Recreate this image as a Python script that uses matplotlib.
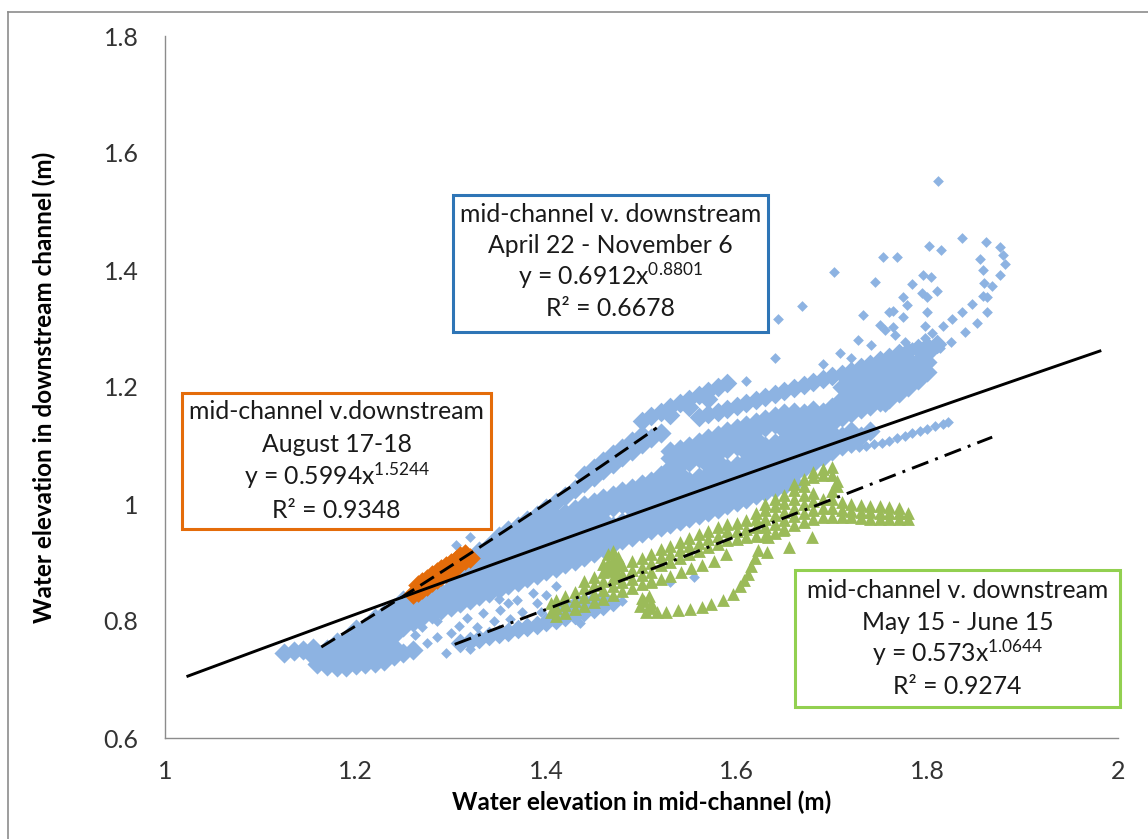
import matplotlib
matplotlib.use("Agg")
import matplotlib.pyplot as plt
from matplotlib.patches import Rectangle
from matplotlib.ticker import FuncFormatter
import numpy as np

plt.rcParams['font.family'] = ['Lato', 'DejaVu Sans']
plt.rcParams['mathtext.fontset'] = 'custom'
plt.rcParams['mathtext.rm'] = 'Lato'
plt.rcParams['mathtext.default'] = 'regular'

# ---------------- April 22 - November 6 (light blue diamonds) ----------------
# dense body of the cloud, one column per x: (x, [y values])
apr_nov_band = [
    (1.125, [0.745]),
    (1.135, [0.748]),
    (1.145, [0.751]),
    (1.155, [0.74, 0.754]),
    (1.16, [0.727, 0.742]),
    (1.17, [0.723, 0.738, 0.752]),
    (1.18, [0.722, 0.738, 0.754, 0.764]),
    (1.19, [0.722, 0.738, 0.754, 0.77]),
    (1.20, [0.724, 0.74, 0.756, 0.772, 0.787]),
    (1.21, [0.726, 0.742, 0.758, 0.774, 0.79]),
    (1.22, [0.728, 0.744, 0.76, 0.776, 0.792, 0.805]),
    (1.23, [0.732, 0.748, 0.764, 0.78, 0.796, 0.812]),
    (1.24, [0.74, 0.756, 0.776, 0.792, 0.808, 0.822]),
    (1.25, [0.746, 0.79, 0.806, 0.822, 0.836]),
    (1.26, [0.75, 0.798, 0.814, 0.83, 0.845]),
    (1.27, [0.806, 0.822, 0.838]),
    (1.28, [0.812, 0.828, 0.844]),
    (1.29, [0.818, 0.834, 0.85]),
    (1.30, [0.824, 0.84, 0.856, 0.87]),
    (1.31, [0.83, 0.846, 0.862, 0.876]),
    (1.32, [0.836, 0.852, 0.868, 0.884]),
    (1.33, [0.842, 0.858, 0.874, 0.89, 0.906, 0.92]),
    (1.34, [0.848, 0.864, 0.88, 0.896, 0.912, 0.928]),
    (1.35, [0.855, 0.871, 0.887, 0.903, 0.919, 0.935, 0.946]),
    (1.36, [0.861, 0.877, 0.893, 0.909, 0.925, 0.941, 0.955]),
    (1.37, [0.867, 0.883, 0.899, 0.915, 0.931, 0.947, 0.963]),
    (1.38, [0.873, 0.889, 0.905, 0.921, 0.937, 0.953, 0.966]),
    (1.39, [0.879, 0.895, 0.911, 0.927, 0.943, 0.957, 0.968]),
    (1.40, [0.885, 0.901, 0.917, 0.933, 0.949, 0.962, 0.97]),
    (1.41, [0.891, 0.907, 0.923, 0.939, 0.955, 0.968, 0.978]),
    (1.42, [0.897, 0.913, 0.929, 0.945, 0.961, 0.975, 0.985]),
    (1.43, [0.903, 0.919, 0.935, 0.951, 0.967, 0.981, 0.992]),
    (1.44, [0.91, 0.926, 0.942, 0.958, 0.974, 0.988, 0.998]),
    (1.45, [0.917, 0.933, 0.949, 0.965, 0.981, 0.995, 1.004]),
    (1.46, [0.924, 0.94, 0.956, 0.972, 0.988, 1.0, 1.01]),
    (1.47, [0.931, 0.947, 0.963, 0.995, 1.006, 1.016]),
    (1.48, [0.938, 0.954, 0.97, 1.0, 1.012, 1.022]),
    (1.49, [0.944, 0.96, 0.976, 0.992, 1.006, 1.018, 1.028]),
    (1.50, [0.95, 0.966, 0.982, 0.998, 1.012, 1.024, 1.034]),
    (1.51, [0.955, 0.971, 0.987, 1.003, 1.018, 1.03, 1.04]),
    (1.52, [0.96, 0.976, 0.992, 1.008, 1.024, 1.038, 1.05]),
    (1.53, [0.966, 0.982, 0.998, 1.014, 1.03, 1.046, 1.062, 1.078, 1.09]),
    (1.54, [0.971, 0.987, 1.003, 1.019, 1.035, 1.051, 1.067, 1.083, 1.094]),
    (1.55, [0.976, 0.992, 1.008, 1.024, 1.04, 1.072, 1.088, 1.1]),
    (1.56, [0.982, 0.998, 1.014, 1.03, 1.046, 1.078, 1.094, 1.106]),
    (1.57, [0.987, 1.003, 1.019, 1.035, 1.051, 1.067, 1.083, 1.099, 1.112]),
    (1.58, [0.992, 1.008, 1.024, 1.04, 1.056, 1.072, 1.088, 1.104, 1.118]),
    (1.59, [0.998, 1.014, 1.03, 1.046, 1.062, 1.094, 1.11, 1.124]),
    (1.60, [1.003, 1.019, 1.035, 1.051, 1.067, 1.099, 1.115, 1.13]),
    (1.61, [1.009, 1.025, 1.041, 1.057, 1.073, 1.089, 1.105, 1.121, 1.135]),
    (1.62, [1.015, 1.031, 1.047, 1.063, 1.079, 1.095, 1.111, 1.127, 1.14]),
    (1.63, [1.02, 1.036, 1.052, 1.068, 1.084, 1.1, 1.132, 1.145]),
    (1.64, [1.025, 1.041, 1.057, 1.073, 1.089, 1.105, 1.137, 1.15]),
    (1.65, [1.03, 1.046, 1.062, 1.078, 1.094, 1.11, 1.126, 1.142, 1.155]),
    (1.66, [1.036, 1.052, 1.068, 1.084, 1.1, 1.116, 1.132, 1.148, 1.158]),
    (1.67, [1.062, 1.078, 1.094, 1.11, 1.126, 1.142, 1.156]),
    (1.68, [1.07, 1.086, 1.102, 1.118, 1.134, 1.15, 1.16]),
    (1.69, [1.08, 1.096, 1.112, 1.128, 1.144, 1.158]),
    (1.70, [1.09, 1.106, 1.122, 1.138, 1.154, 1.165]),
    (1.71, [1.1, 1.116, 1.148, 1.164, 1.18, 1.2]),
    (1.72, [1.108, 1.124, 1.156, 1.172, 1.19, 1.208]),
    (1.73, [1.116, 1.162, 1.178, 1.196, 1.214]),
    (1.74, [1.124, 1.168, 1.184, 1.2, 1.22]),
    (1.75, [1.175, 1.19, 1.206, 1.224, 1.24]),
    (1.76, [1.18, 1.196, 1.212, 1.23, 1.246]),
    (1.77, [1.19, 1.206, 1.222, 1.238, 1.252]),
    (1.78, [1.2, 1.216, 1.232, 1.246]),
    (1.79, [1.212, 1.228, 1.244]),
    (1.80, [1.226, 1.242, 1.258]),
]

# strand running along the upper edge (under the dashed fit)
apr_nov_ridge = [
    (1.38, 0.972), (1.39, 0.982), (1.40, 0.993), (1.41, 1.003), (1.42, 1.014),
    (1.43, 1.025), (1.44, 1.036), (1.45, 1.047), (1.46, 1.058), (1.47, 1.069),
    (1.48, 1.08), (1.49, 1.091), (1.50, 1.102), (1.51, 1.113), (1.52, 1.122),
    (1.44, 1.05), (1.45, 1.062), (1.46, 1.074), (1.47, 1.085), (1.48, 1.096),
    (1.49, 1.107), (1.50, 1.118),
]

# short strand near 1.2 and the long upper strand
apr_nov_upper = [
    (1.50, 1.142), (1.51, 1.15), (1.52, 1.158), (1.53, 1.165), (1.54, 1.172),
    (1.55, 1.18), (1.56, 1.187), (1.57, 1.194), (1.58, 1.2), (1.59, 1.207),
    (1.53, 1.152), (1.55, 1.166), (1.57, 1.18),
    (1.56, 1.148), (1.57, 1.153), (1.58, 1.158), (1.59, 1.163), (1.60, 1.168),
    (1.61, 1.173), (1.62, 1.178), (1.63, 1.183), (1.64, 1.188), (1.65, 1.193),
    (1.66, 1.198), (1.67, 1.203), (1.68, 1.208), (1.69, 1.213), (1.70, 1.218),
    (1.71, 1.223), (1.72, 1.228), (1.73, 1.234), (1.74, 1.24), (1.75, 1.246),
    (1.76, 1.252), (1.77, 1.258), (1.78, 1.262), (1.79, 1.266), (1.80, 1.27),
    (1.81, 1.274),
]

# lower strand below the main body
apr_nov_low = [
    (1.31, 0.762), (1.32, 0.766), (1.33, 0.77), (1.34, 0.774), (1.35, 0.778),
    (1.36, 0.782), (1.37, 0.786), (1.38, 0.79), (1.39, 0.794), (1.40, 0.798),
    (1.41, 0.802), (1.42, 0.806), (1.43, 0.81), (1.44, 0.815), (1.45, 0.82),
    (1.46, 0.826), (1.47, 0.832), (1.42, 0.822), (1.43, 0.828), (1.44, 0.832),
    (1.45, 0.836), (1.46, 0.84),
]

# single scattered readings
apr_nov_single = [
    (1.262, 0.776), (1.275, 0.762), (1.285, 0.773), (1.285, 0.80), (1.30, 0.779),
    (1.309, 0.792), (1.317, 0.805), (1.327, 0.79), (1.334, 0.814), (1.345, 0.80),
    (1.351, 0.819), (1.36, 0.83), (1.369, 0.836), (1.375, 0.815), (1.386, 0.848),
    (1.362, 0.803), (1.39, 0.83), (1.40, 0.845), (1.41, 0.86), (1.395, 0.815),
    (1.32, 0.752), (1.295, 0.745), (1.27, 0.79), (1.35, 0.838), (1.32, 0.944),
    (1.305, 0.93), (1.53, 0.867), (1.48, 0.835), (1.435, 0.797), (1.555, 0.875),
    (1.70, 1.09), (1.72, 1.096), (1.728, 1.098), (1.736, 1.1), (1.744, 1.102),
    (1.752, 1.104), (1.76, 1.108), (1.768, 1.112), (1.776, 1.117), (1.784, 1.121),
    (1.792, 1.125), (1.80, 1.129), (1.808, 1.133), (1.816, 1.137), (1.822, 1.14),
    (1.755, 1.166), (1.762, 1.181), (1.77, 1.19), (1.78, 1.20), (1.785, 1.217),
    (1.79, 1.234), (1.80, 1.251), (1.805, 1.263),
    (1.862, 1.448), (1.876, 1.439), (1.879, 1.426), (1.881, 1.41), (1.876, 1.391),
    (1.868, 1.373), (1.863, 1.354), (1.863, 1.328), (1.852, 1.309), (1.839, 1.294),
    (1.825, 1.277), (1.813, 1.267), (1.855, 1.419), (1.858, 1.40), (1.859, 1.378),
    (1.858, 1.356), (1.847, 1.342), (1.836, 1.328), (1.826, 1.316), (1.816, 1.304),
    (1.805, 1.292), (1.797, 1.284), (1.836, 1.455), (1.811, 1.552), (1.802, 1.441),
    (1.814, 1.434), (1.753, 1.422), (1.768, 1.422), (1.795, 1.391), (1.804, 1.388),
    (1.784, 1.376), (1.794, 1.361), (1.81, 1.364), (1.80, 1.354), (1.774, 1.354),
    (1.779, 1.34), (1.764, 1.33), (1.774, 1.32), (1.80, 1.328), (1.797, 1.304),
    (1.764, 1.303), (1.755, 1.297), (1.766, 1.289), (1.776, 1.277), (1.784, 1.268),
    (1.795, 1.267), (1.702, 1.397), (1.745, 1.38), (1.668, 1.338), (1.732, 1.323),
    (1.643, 1.316), (1.76, 1.328), (1.75, 1.306), (1.708, 1.258), (1.64, 1.25),
    (1.727, 1.28), (1.741, 1.272), (1.69, 1.24), (1.72, 1.25), (1.61, 1.21),
]

# ---------------- August 17-18 (orange diamonds) ----------------
aug_pts = [
    (1.26, 0.846), (1.265, 0.85), (1.265, 0.862), (1.27, 0.855), (1.27, 0.867),
    (1.275, 0.86), (1.275, 0.872), (1.28, 0.866), (1.28, 0.878), (1.285, 0.871),
    (1.285, 0.883), (1.29, 0.877), (1.29, 0.889), (1.295, 0.882), (1.295, 0.894),
    (1.30, 0.888), (1.30, 0.90), (1.305, 0.893), (1.305, 0.905), (1.31, 0.899),
    (1.31, 0.911), (1.315, 0.904), (1.315, 0.914), (1.32, 0.908),
]

# ---------------- May 15 - June 15 (green triangles) ----------------
may_jun_band = [
    (1.405, [0.815, 0.83]),
    (1.41, [0.808, 0.822, 0.836]),
    (1.42, [0.814, 0.828, 0.842]),
    (1.43, [0.82, 0.835, 0.85]),
    (1.44, [0.826, 0.841, 0.856, 0.868]),
    (1.45, [0.832, 0.847, 0.862, 0.876]),
    (1.46, [0.838, 0.853, 0.868, 0.883, 0.898]),
    (1.465, [0.885, 0.90, 0.915]),
    (1.47, [0.844, 0.859, 0.874, 0.889, 0.905, 0.92]),
    (1.475, [0.88, 0.895, 0.91]),
    (1.48, [0.851, 0.866, 0.881, 0.895]),
    (1.49, [0.857, 0.872, 0.887, 0.902]),
    (1.50, [0.863, 0.878, 0.893, 0.908]),
    (1.51, [0.869, 0.884, 0.899, 0.914]),
    (1.52, [0.895, 0.909, 0.923]),
    (1.53, [0.901, 0.915, 0.929]),
    (1.54, [0.907, 0.921, 0.935]),
    (1.55, [0.914, 0.928, 0.942]),
    (1.56, [0.92, 0.934, 0.948]),
    (1.57, [0.926, 0.94, 0.954]),
    (1.58, [0.932, 0.946, 0.96]),
    (1.59, [0.939, 0.953, 0.966]),
    (1.60, [0.94, 0.954, 0.968]),
    (1.61, [0.944, 0.958, 0.972]),
    (1.62, [0.945, 0.96, 0.975, 0.985]),
    (1.63, [0.945, 0.96, 0.975, 0.99, 1.0]),
    (1.64, [0.951, 0.966, 0.981, 0.996, 1.008]),
    (1.65, [0.957, 0.972, 0.987, 1.002, 1.016]),
    (1.66, [0.964, 0.979, 0.994, 1.009, 1.024, 1.034]),
    (1.67, [0.97, 0.985, 1.0, 1.015, 1.03, 1.042]),
    (1.68, [0.975, 0.99, 1.005, 1.018, 1.046, 1.054]),
    (1.69, [0.978, 0.993, 1.008, 1.05, 1.06]),
    (1.70, [0.978, 0.993, 1.008, 1.022, 1.05, 1.063]),
    (1.705, [1.03, 1.04]),
    (1.71, [0.978, 0.99, 1.003]),
    (1.72, [0.977, 0.988, 1.0]),
    (1.73, [0.976, 0.987, 0.998]),
    (1.74, [0.975, 0.986, 0.997]),
    (1.75, [0.975, 0.985, 0.996]),
    (1.76, [0.974, 0.984, 0.995]),
    (1.77, [0.974, 0.984, 0.994]),
    (1.78, [0.975, 0.985]),
]

# loop below the main run and the separated triangles
may_jun_loop = [
    (1.516, 0.816), (1.526, 0.816), (1.538, 0.818), (1.551, 0.82), (1.563, 0.824),
    (1.573, 0.829), (1.586, 0.836), (1.596, 0.846), (1.603, 0.859), (1.608, 0.87),
    (1.612, 0.881), (1.615, 0.894), (1.619, 0.907), (1.622, 0.921),
    (1.498, 0.826), (1.505, 0.815), (1.51, 0.83), (1.508, 0.842), (1.50, 0.84),
    (1.503, 0.835), (1.51, 0.822),
    (1.51, 0.866), (1.52, 0.871), (1.53, 0.877), (1.541, 0.884), (1.552, 0.89),
    (1.564, 0.896), (1.576, 0.902), (1.589, 0.915),
    (1.633, 0.944), (1.632, 0.918), (1.655, 0.927), (1.679, 0.944), (1.648, 0.956),
]

# ---------------- power-law trend lines ----------------
fit_coef = [0.6912, 0.5994, 0.573]
fit_expo = [0.8801, 1.5244, 1.0644]
fit_xmin = [1.024, 1.164, 1.304]
fit_xmax = [1.981, 1.516, 1.868]
fit_style = ['-', (0, (5.5, 2.5)), (0, (6, 2.5, 1, 2.5))]

x_ticks = [1, 1.2, 1.4, 1.6, 1.8, 2]
y_ticks = [0.6, 0.8, 1.0, 1.2, 1.4, 1.6, 1.8]

BLUE = '#8db3e2'
ORANGE = '#e46c0a'
GREEN = '#9bbb59'


def unpack_columns(cols):
    xs = [x for x, ys in cols for _ in ys]
    ys = [y for _, col in cols for y in col]
    return xs, ys


fig = plt.figure(figsize=(11.48, 8.39), dpi=100)
ax = fig.add_axes([165 / 1148, 1 - 738 / 839, (1118 - 165) / 1148, (738 - 36) / 839])

bx, by = unpack_columns(apr_nov_band)
ax.scatter(bx, by, marker='D', s=105, color=BLUE, linewidths=0, zorder=2)
for pts, size in [(apr_nov_ridge, 105), (apr_nov_upper, 100), (apr_nov_low, 100),
                  (apr_nov_single, 30)]:
    ax.scatter([p[0] for p in pts], [p[1] for p in pts], marker='D', s=size,
               color=BLUE, linewidths=0, zorder=2)

ax.scatter([p[0] for p in aug_pts], [p[1] for p in aug_pts], marker='D', s=110,
           color=ORANGE, linewidths=0, zorder=3)

gx, gy = unpack_columns(may_jun_band)
ax.scatter(gx, gy, marker='^', s=85, color=GREEN, linewidths=0, zorder=3)
ax.scatter([p[0] for p in may_jun_loop], [p[1] for p in may_jun_loop], marker='^',
           s=85, color=GREEN, linewidths=0, zorder=3)

for a, b, x0, x1, ls in zip(fit_coef, fit_expo, fit_xmin, fit_xmax, fit_style):
    xf = np.linspace(x0, x1, 200)
    ax.plot(xf, a * xf ** b, color='black', lw=2.1, linestyle=ls, zorder=4)

ax.set_xlim(1, 2)
ax.set_ylim(0.6, 1.8)
ax.set_xticks(x_ticks)
ax.set_yticks(y_ticks)
fmt = FuncFormatter(lambda v, _: '%g' % round(v, 2))
ax.xaxis.set_major_formatter(fmt)
ax.yaxis.set_major_formatter(fmt)
ax.tick_params(axis='both', length=0, labelsize=18, colors='#333333')
ax.tick_params(axis='x', pad=16)
ax.tick_params(axis='y', pad=19)
for side in ['top', 'right']:
    ax.spines[side].set_visible(False)
for side in ['left', 'bottom']:
    ax.spines[side].set_color('#8c8c8c')
    ax.spines[side].set_linewidth(1.0)

ax.set_xlabel('Water elevation in mid-channel (m)', fontsize=17.5, fontweight='bold',
              labelpad=5)
ax.set_ylabel('Water elevation in downstream channel (m)', fontsize=17.5,
              fontweight='bold', labelpad=34)

# overlay in pixel units for the outer frame and the fit boxes
over = fig.add_axes([0, 0, 1, 1])
over.set_xlim(0, 1148)
over.set_ylim(839, 0)
over.axis('off')
over.plot([8, 1148], [12, 12], color='#8c8c8c', lw=1.2)
over.plot([8, 8], [12, 839], color='#8c8c8c', lw=1.2)

boxes = [
    ((453, 195, 768, 332), '#2e75b6',
     ['mid-channel v. downstream', 'April 22 - November 6',
      'y = 0.6912x$^{0.8801}$', 'R² = 0.6678'], [222, 253, 285, 316]),
    ((182, 393, 491, 529), ORANGE,
     ['mid-channel v.downstream', 'August 17-18',
      'y = 0.5994x$^{1.5244}$', 'R² = 0.9348'], [419, 452, 485, 518]),
    ((795, 570, 1120, 707), '#92d050',
     ['mid-channel v. downstream', 'May 15 - June 15',
      'y = 0.573x$^{1.0644}$', 'R² = 0.9274'], [598, 630, 662, 694]),
]
for (x0, y0, x1, y1), ec, lines, bases in boxes:
    over.add_patch(Rectangle((x0, y0), x1 - x0, y1 - y0, facecolor='white',
                             edgecolor=ec, lw=2.2, zorder=5))
    for txt, yb in zip(lines, bases):
        over.text((x0 + x1) / 2, yb, txt, ha='center', va='baseline', fontsize=17.8,
                  color='#1a1a1a', zorder=6)

fig.savefig('out.png', dpi=100)
